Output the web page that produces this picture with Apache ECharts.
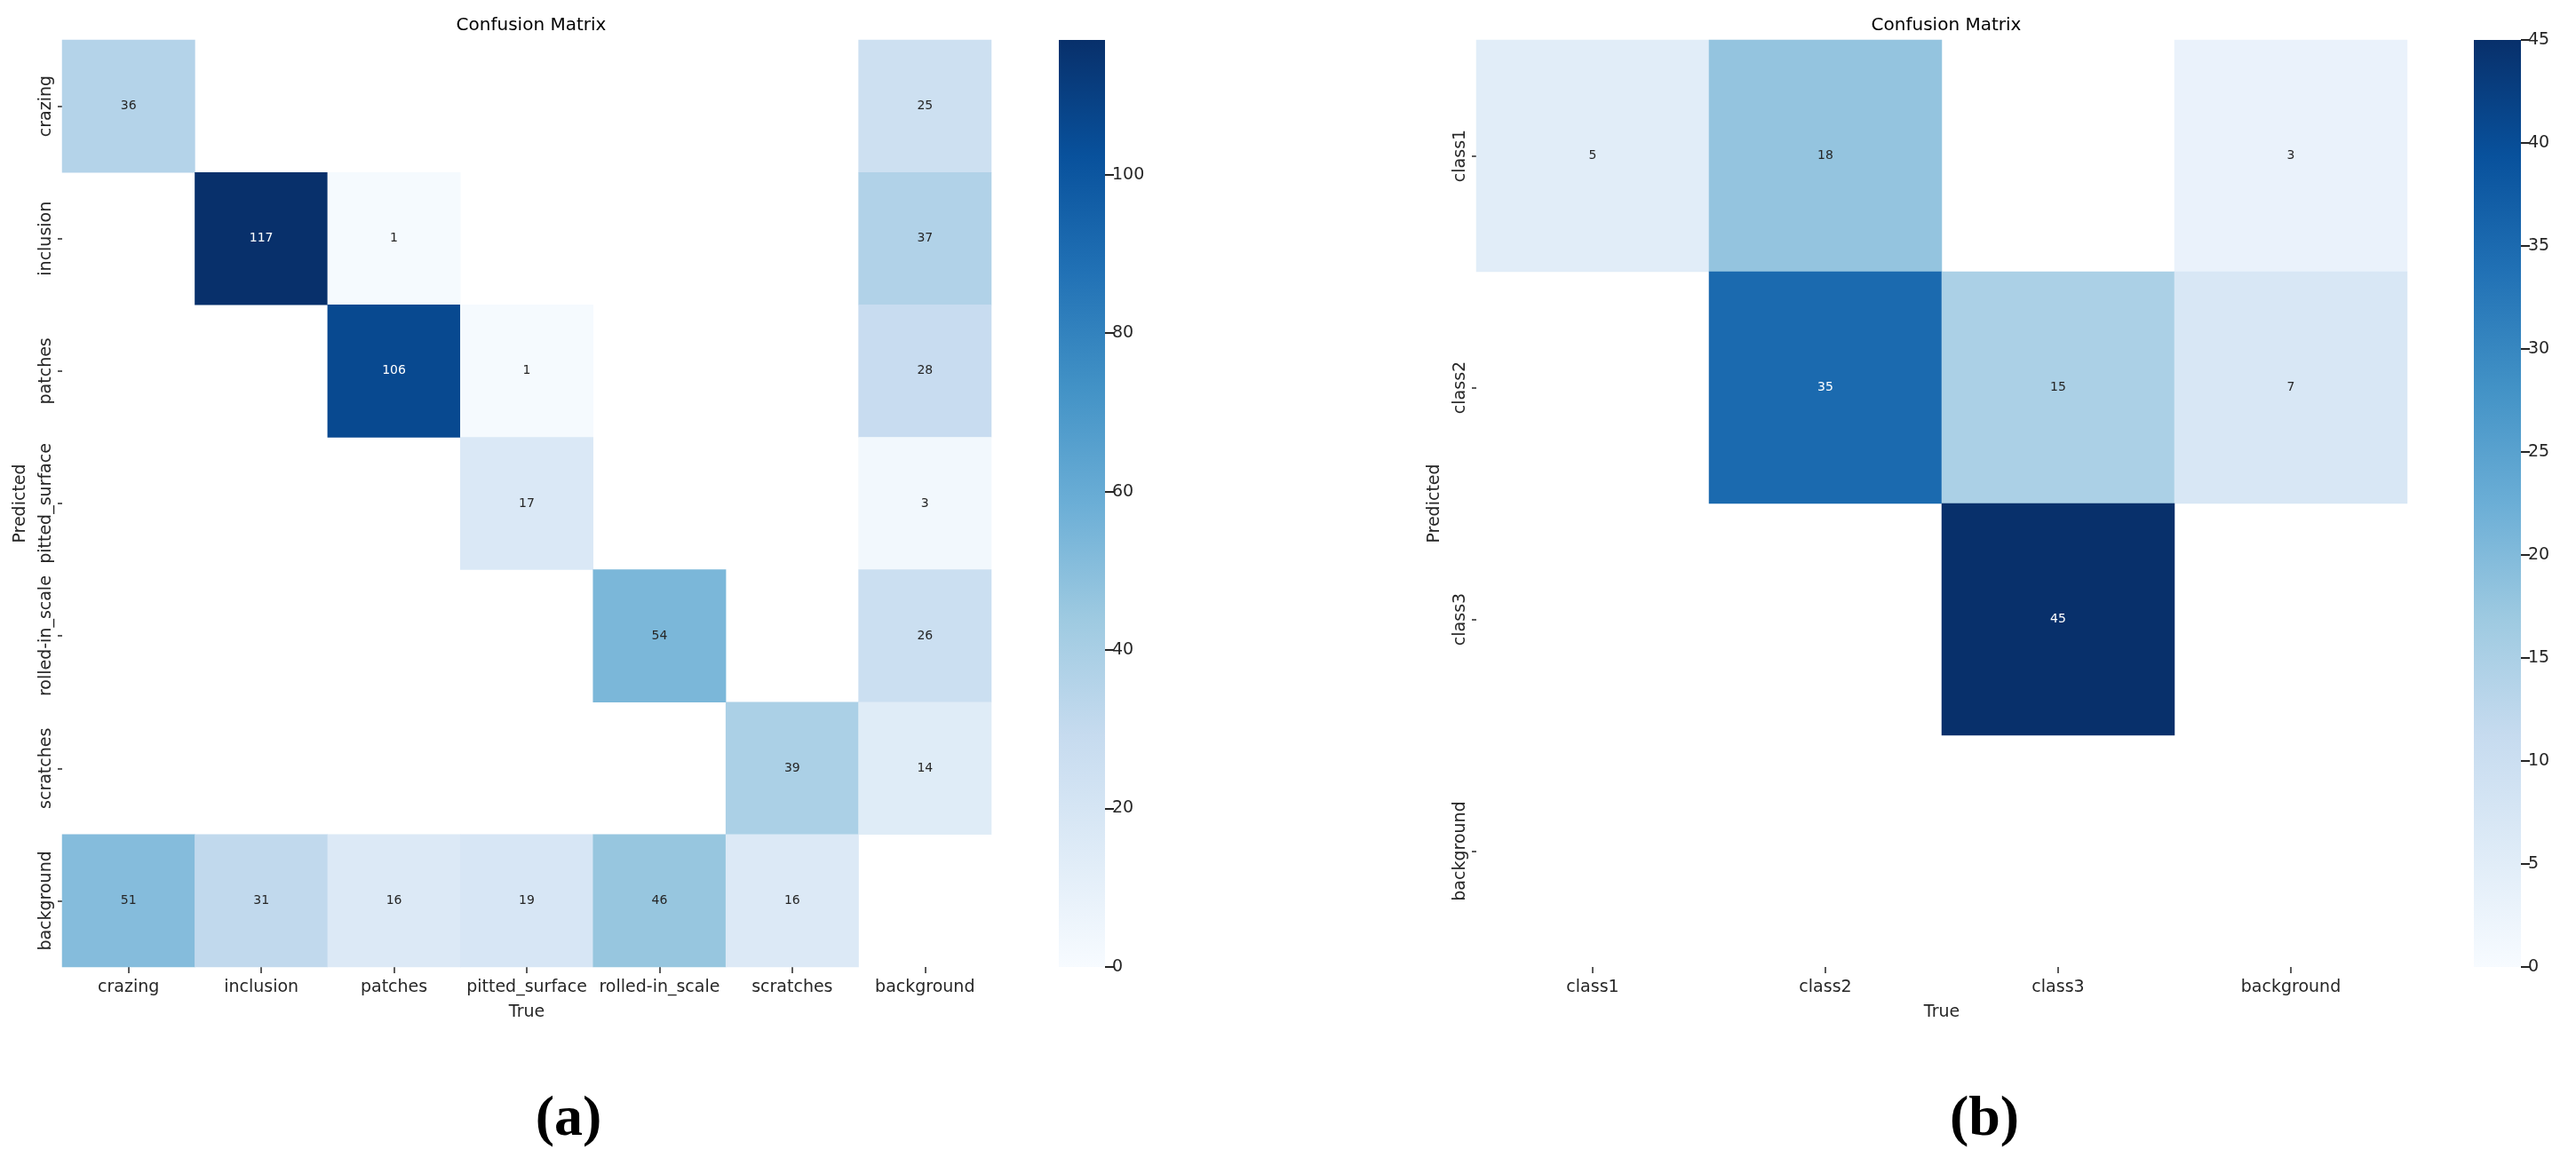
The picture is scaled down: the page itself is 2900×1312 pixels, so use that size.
<!DOCTYPE html>
<html><head><meta charset="utf-8">
<script src="https://cdn.jsdelivr.net/npm/echarts@6/dist/echarts.min.js"></script>
<style>html,body{margin:0;padding:0;background:#fff}#c{width:2900px;height:1312px}</style>
</head><body><div id="c"></div>
<script>
// ---- data ----
const catsA = ['crazing','inclusion','patches','pitted_surface','rolled-in_scale','scratches','background'];
const matA_crazing        = [36, 0, 0, 0, 0, 0, 25];
const matA_inclusion      = [0, 117, 1, 0, 0, 0, 37];
const matA_patches        = [0, 0, 106, 1, 0, 0, 28];
const matA_pitted_surface = [0, 0, 0, 17, 0, 0, 3];
const matA_rolled         = [0, 0, 0, 0, 54, 0, 26];
const matA_scratches      = [0, 0, 0, 0, 0, 39, 14];
const matA_background     = [51, 31, 16, 19, 46, 16, 0];
const ticksA = [0, 20, 40, 60, 80, 100];

const catsB = ['class1','class2','class3','background'];
const matB_class1     = [5, 18, 0, 3];
const matB_class2     = [0, 35, 15, 7];
const matB_class3     = [0, 0, 45, 0];
const matB_background = [0, 0, 0, 0];
const ticksB = [0, 5, 10, 15, 20, 25, 30, 35, 40, 45];

const rowsA = [matA_crazing, matA_inclusion, matA_patches, matA_pitted_surface, matA_rolled, matA_scratches, matA_background];
const rowsB = [matB_class1, matB_class2, matB_class3, matB_background];

// ---- colormap (matplotlib Blues) ----
const blues = ['#f7fbff','#deebf7','#c6dbef','#9ecae1','#6baed6','#4292c6','#2171b5','#08519c','#08306b'];
function hex2rgb(h){return [parseInt(h.slice(1,3),16),parseInt(h.slice(3,5),16),parseInt(h.slice(5,7),16)];}
function interp(t){
  t=Math.max(0,Math.min(1,t));
  const p=t*(blues.length-1); const i=Math.min(Math.floor(p),blues.length-2); const f=p-i;
  const a=hex2rgb(blues[i]), b=hex2rgb(blues[i+1]);
  return a.map((v,k)=>v+(b[k]-v)*f);
}
function lum(rgb){
  const c=rgb.map(v=>{v/=255;return v<=0.03928?v/12.92:Math.pow((v+0.055)/1.055,2.4);});
  return 0.2126*c[0]+0.7152*c[1]+0.0722*c[2];
}
function buildData(rows, vmax){
  const out=[];
  rows.forEach((r,y)=>r.forEach((v,x)=>{
    if(v>0){
      const l=lum(interp(v/vmax));
      out.push({value:[x,y,v],label:{color:l>0.408?'#262626':'#ffffff'}});
    }
  }));
  return out;
}
const maxA = Math.max(...rowsA.flat());
const maxB = Math.max(...rowsB.flat());

const FONT = 'DejaVu Sans';
const TXT = '#262626';
const gradStops = blues.map((c,i)=>({offset:i/(blues.length-1),color:c}));

function heatAxes(cats, gi){
  return {
    x:{type:'category',data:cats,gridIndex:gi,position:'bottom',
       axisLine:{show:false},axisTick:{show:true,alignWithLabel:true,length:7,lineStyle:{color:TXT,width:1.5}},
       axisLabel:{fontFamily:FONT,fontSize:19,color:TXT,margin:14,interval:0},
       splitArea:{show:false},splitLine:{show:false},
       name:'True',nameLocation:'middle',nameGap:42,nameTextStyle:{fontFamily:FONT,fontSize:19,color:TXT}},
    y:{type:'category',data:cats,gridIndex:gi,inverse:true,
       axisLine:{show:false},axisTick:{show:true,alignWithLabel:true,length:5,lineStyle:{color:TXT,width:1.5}},
       axisLabel:{fontFamily:FONT,fontSize:19,color:TXT,rotate:90,margin:8,interval:0},
       splitArea:{show:false},splitLine:{show:false},
       name:'Predicted',nameLocation:'middle',nameRotate:90,nameGap:37,nameTextStyle:{fontFamily:FONT,fontSize:19,color:TXT}}
  };
}
function cbAxes(gi, vmax, interval){
  return {
    x:{type:'category',data:[''],gridIndex:gi,show:false},
    y:{type:'value',gridIndex:gi,min:0,max:vmax,interval:interval,position:'right',
       axisLine:{show:false},axisTick:{show:true,length:10,lineStyle:{color:TXT,width:2}},
       axisLabel:{fontFamily:FONT,fontSize:19,color:TXT,margin:8,showMaxLabel:vmax%interval===0},
       splitLine:{show:false}}
  };
}
const aA=heatAxes(catsA,0), aB=heatAxes(catsB,2);
const cA=cbAxes(1,maxA,20), cB=cbAxes(3,maxB,5);

const option={
  backgroundColor:'#ffffff',
  animation:false,
  title:[
    {text:'Confusion Matrix',left:593,top:14,textAlign:'center',textStyle:{fontFamily:FONT,fontSize:20,fontWeight:'normal',color:'#000'}},
    {text:'Confusion Matrix',left:2186,top:14,textAlign:'center',textStyle:{fontFamily:FONT,fontSize:20,fontWeight:'normal',color:'#000'}},
    {text:'(a)',left:635,top:1224,textAlign:'center',textStyle:{fontFamily:'Liberation Serif',fontSize:64,fontWeight:'bold',color:'#000'}},
    {text:'(b)',left:2229,top:1224,textAlign:'center',textStyle:{fontFamily:'Liberation Serif',fontSize:64,fontWeight:'bold',color:'#000'}}
  ],
  grid:[
    {left:70,top:45,width:1046,height:1044},
    {left:1192,top:45,width:52,height:1044},
    {left:1662,top:45,width:1048,height:1044},
    {left:2785,top:45,width:53,height:1044}
  ],
  xAxis:[aA.x,cA.x,aB.x,cB.x],
  yAxis:[aA.y,cA.y,aB.y,cB.y],
  visualMap:[
    {type:'continuous',show:false,seriesIndex:0,min:0,max:maxA,dimension:2,inRange:{color:blues}},
    {type:'continuous',show:false,seriesIndex:2,min:0,max:maxB,dimension:2,inRange:{color:blues}}
  ],
  series:[
    {type:'heatmap',xAxisIndex:0,yAxisIndex:0,data:buildData(rowsA,maxA),
     label:{show:true,fontFamily:FONT,fontSize:14},itemStyle:{borderWidth:0},emphasis:{disabled:true}},
    {type:'bar',xAxisIndex:1,yAxisIndex:1,data:[maxA],barWidth:'100%',silent:true,
     itemStyle:{color:new echarts.graphic.LinearGradient(0,1,0,0,gradStops)}},
    {type:'heatmap',xAxisIndex:2,yAxisIndex:2,data:buildData(rowsB,maxB),
     label:{show:true,fontFamily:FONT,fontSize:14},itemStyle:{borderWidth:0},emphasis:{disabled:true}},
    {type:'bar',xAxisIndex:3,yAxisIndex:3,data:[maxB],barWidth:'100%',silent:true,
     itemStyle:{color:new echarts.graphic.LinearGradient(0,1,0,0,gradStops)}}
  ]
};
const chart=echarts.init(document.getElementById('c'),null,{renderer:'canvas'});
chart.setOption(option);
</script></body></html>
